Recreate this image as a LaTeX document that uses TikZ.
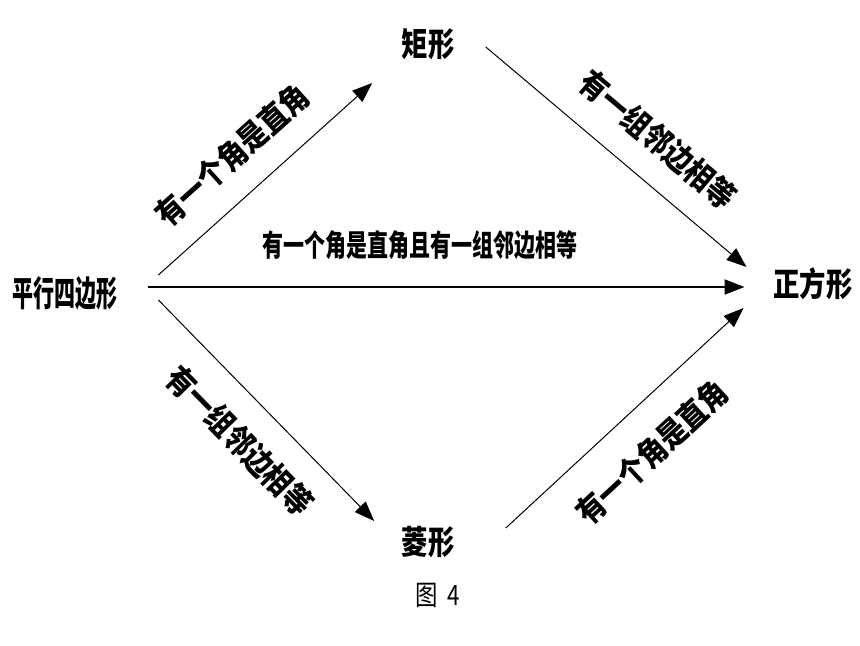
\documentclass[tikz,border=0pt]{standalone}
\usepackage{fontspec}
\newfontfamily\cjkA[FakeStretch=0.8]{Noto Sans CJK SC}
\newfontfamily\cjkB[FakeStretch=0.7]{Noto Sans CJK SC}
\newfontfamily\cjkC[FakeStretch=0.6]{Noto Sans CJK SC}
\newfontfamily\cjkD[FakeStretch=0.86]{Noto Sans CJK SC}
\usetikzlibrary{arrows.meta}

\begin{document}
\begin{tikzpicture}[x=0.5pt,y=0.5pt,
    kind/.style={inner sep=0pt,font=\fontsize{16.5}{18}\selectfont\cjkA\bfseries},
    cond/.style={inner sep=0pt,sloped,font=\fontsize{16}{17}\selectfont\cjkD\bfseries},
    arr/.style={-{Triangle[length=10pt,width=7.5pt]},line width=0.5pt}]
      \useasboundingbox (0,0) rectangle (860,645);
      %% the figures
      \node[kind] (rect) at (428,601) {矩形};
      \node[kind] (square) at (813,361) {正方形};
      \node[kind] (rhomb) at (428,103) {菱形};
      \node[kind,font=\fontsize{17.5}{18}\selectfont\cjkC\bfseries] (pgram) at (65,352) {平行四边形};
      \node[font=\fontsize{14}{16}\selectfont\cjkA] (cap) at (438,50) {图\ \ 4};
      %% the conditions
      \draw[arr] ([shift={(40.5,18)}]pgram.east) -- ([shift={(-29,-39)}]rect.west) node[cond,pos=0.47,above=12pt] {有一个角是直角};
      \draw[arr] ([shift={(31,-3)}]rect.east) -- ([shift={(-26.5,17)}]square.west) node[cond,pos=0.56,above=12pt] {有一组邻边相等};
      \draw[arr,line width=1pt] ([shift={(30.5,6)}]pgram.east) -- ([shift={(-28.5,-3)}]square.west) node[cond,pos=0.456,above=13pt,font=\fontsize{15}{16}\selectfont\cjkB\bfseries] {有一个角是直角且有一组邻边相等};
      \draw[arr] ([shift={(40.5,-7)}]pgram.east) -- ([shift={(-27,21)}]rhomb.west) node[cond,pos=0.51,below=12pt] {有一组邻边相等};
      \draw[arr] ([shift={(51,14)}]rhomb.east) -- ([shift={(-29.5,-24)}]square.west) node[cond,pos=0.49,below=14pt] {有一个角是直角};
  \end{tikzpicture}
\end{document}
